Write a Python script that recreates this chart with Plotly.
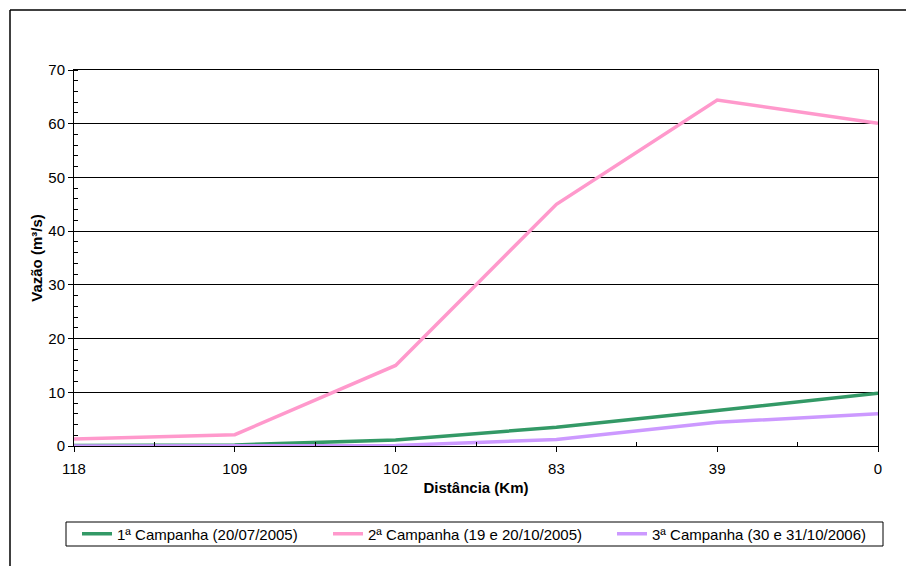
import plotly.graph_objects as go

# River discharge along the stretch, per sampling campaign
distancias = ["118", "109", "102", "83", "39", "0"]
campanha_1 = [0.1, 0.2, 1.1, 3.5, 6.6, 9.8]
campanha_2 = [1.3, 2.1, 15.0, 45.0, 64.4, 60.1]
campanha_3 = [0.0, 0.0, 0.1, 1.2, 4.4, 6.0]

nomes = [
    "1ª Campanha (20/07/2005)",
    "2ª Campanha (19 e 20/10/2005)",
    "3ª Campanha (30 e 31/10/2006)",
]
cores = ["#339966", "#FF99CC", "#CC99FF"]

W, H = 906, 566
ML, MR, MT, MB = 74, 28, 70, 120
PW, PH = W - ML - MR, H - MT - MB

def px_x(p):
    return (p - ML) / PW

def px_y(p):
    return (H - MB - p) / PH

pos = list(range(len(distancias)))
legendas = ["legend", "legend2", "legend3"]
fig = go.Figure()
for nome, cor, vals, lg in zip(nomes, cores, [campanha_1, campanha_2, campanha_3], legendas):
    fig.add_trace(go.Scatter(
        x=pos, y=vals, mode="lines", name=nome, legend=lg,
        line=dict(color=cor, width=3.5), cliponaxis=False,
    ))

font = "Liberation Sans, Arial, sans-serif"
leg_x = [77, 328, 612]
leg_common = dict(
    orientation="h", y=px_y(534), xanchor="left", yanchor="middle",
    bgcolor="rgba(0,0,0,0)", borderwidth=0, font=dict(size=15),
    itemwidth=30,
)
fig.update_layout(
    width=W, height=H,
    margin=dict(l=ML, r=MR, t=MT, b=MB),
    paper_bgcolor="white", plot_bgcolor="white",
    font=dict(family=font, size=15, color="black"),
    showlegend=True,
    legend=dict(x=px_x(leg_x[0]), **leg_common),
    legend2=dict(x=px_x(leg_x[1]), **leg_common),
    legend3=dict(x=px_x(leg_x[2]), **leg_common),
    xaxis=dict(
        range=[0, len(distancias) - 1],
        tickmode="array", tickvals=pos, ticktext=distancias,
        ticks="outside", ticklen=5, tickcolor="black",
        ticklabelstandoff=4,
        showgrid=False, zeroline=False,
        showline=True, linecolor="black", linewidth=1, mirror=True,
        minor=dict(tickmode="array", tickvals=[p + 0.5 for p in pos[:-1]],
                   ticks="inside", ticklen=4, tickcolor="black", showgrid=False),
        title=dict(text="<b>Distância (Km)</b>", standoff=6, font=dict(size=15)),
        tickfont=dict(size=15),
    ),
    yaxis=dict(
        range=[0, 70], dtick=10,
        ticks="outside", ticklen=5, tickcolor="black",
        showgrid=True, gridcolor="black", gridwidth=1,
        zeroline=False,
        showline=True, linecolor="black", linewidth=1, mirror=True,
        minor=dict(dtick=2, ticks="inside", ticklen=4, tickcolor="black", showgrid=False),
        title=dict(text="<b>Vazão (m³/s)</b>", standoff=2, font=dict(size=15)),
        tickfont=dict(size=15),
    ),
)

# Legend frame
fig.add_shape(type="rect", xref="paper", yref="paper",
              x0=px_x(66), x1=px_x(883), y0=px_y(522), y1=px_y(546),
              line=dict(color="black", width=1), fillcolor="rgba(0,0,0,0)")

# Outer chart frame (left and top edges visible)
fig.add_shape(type="line", xref="paper", yref="paper",
              x0=px_x(10), x1=px_x(10), y0=px_y(10), y1=px_y(H + 5),
              line=dict(color="black", width=1.5))
fig.add_shape(type="line", xref="paper", yref="paper",
              x0=px_x(10), x1=px_x(W + 5), y0=px_y(10), y1=px_y(10),
              line=dict(color="black", width=1.5))

fig.write_html("out.html")
